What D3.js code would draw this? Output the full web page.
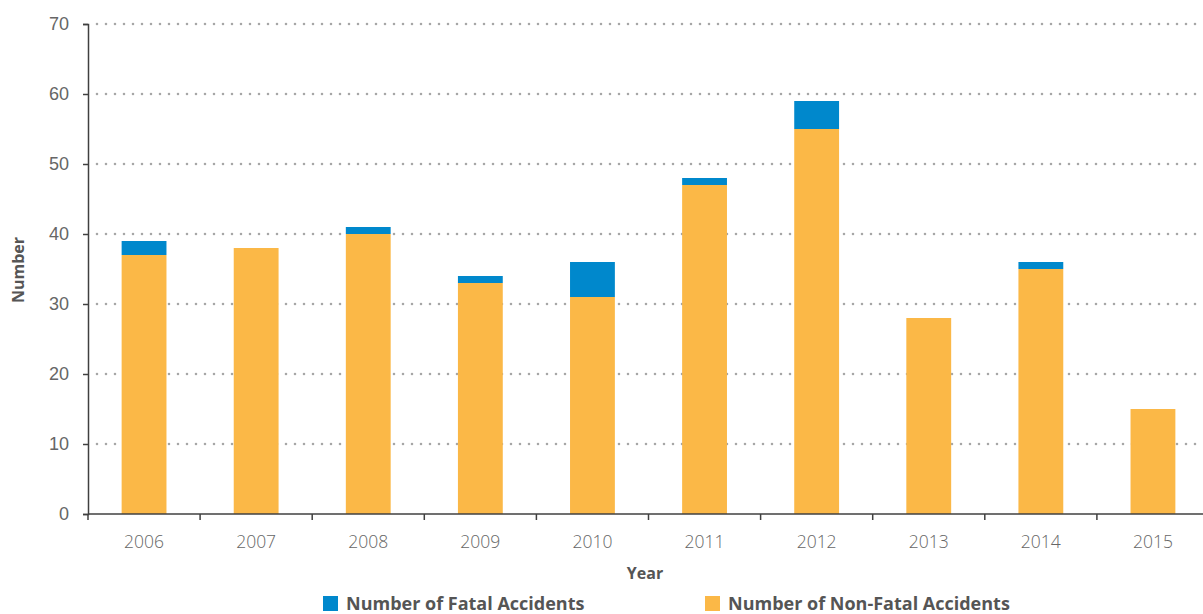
<!DOCTYPE html>
<html>
<head>
<meta charset="utf-8">
<script src="https://cdn.jsdelivr.net/npm/d3@7"></script>
<style>
  html, body { margin: 0; padding: 0; background: #fff; }
  svg { display: block; font-family: "Open Sans", "Noto Sans", sans-serif; }
</style>
</head>
<body>
<svg id="chart" width="1203" height="614"></svg>
<script>
// Accidents per year
const years = ["2006", "2007", "2008", "2009", "2010", "2011", "2012", "2013", "2014", "2015"];
const nonFatal = [37, 38, 40, 33, 31, 47, 55, 28, 35, 15];
const fatal = [2, 0, 1, 1, 5, 1, 4, 0, 1, 0];
const yTicks = [0, 10, 20, 30, 40, 50, 60, 70];
const seriesNames = ["Number of Fatal Accidents", "Number of Non-Fatal Accidents"];
const colors = { fatal: "#0088cc", nonFatal: "#fbb847" };

const svg = d3.select("#chart");
const plotLeft = 88, plotRight = 1209, plotTop = 24, plotBottom = 514;

const x = d3.scaleBand().domain(years).range([plotLeft, plotRight]).padding(0);
const y = d3.scaleLinear().domain([0, 70]).range([plotBottom, plotTop]);
const barW = x.bandwidth() * 0.4;

// dotted gridlines
svg.append("g").selectAll("line")
  .data(yTicks.filter(d => d > 0))
  .join("line")
  .attr("x1", plotLeft + 9).attr("x2", 1203)
  .attr("y1", d => y(d)).attr("y2", d => y(d))
  .attr("stroke", "#a6a6a6")
  .attr("stroke-width", 2.6)
  .attr("stroke-linecap", "round")
  .attr("stroke-dasharray", "0 9");

// stacked bars
const rows = years.map((yr, i) => ({ yr, nf: nonFatal[i], f: fatal[i] }));
const bars = svg.append("g");
bars.selectAll("rect.nf").data(rows).join("rect")
  .attr("class", "nf")
  .attr("x", d => x(d.yr) + (x.bandwidth() - barW) / 2)
  .attr("width", barW)
  .attr("y", d => y(d.nf))
  .attr("height", d => y(0) - y(d.nf))
  .attr("fill", colors.nonFatal);
bars.selectAll("rect.f").data(rows.filter(d => d.f > 0)).join("rect")
  .attr("class", "f")
  .attr("x", d => x(d.yr) + (x.bandwidth() - barW) / 2)
  .attr("width", barW)
  .attr("y", d => y(d.nf + d.f))
  .attr("height", d => y(d.nf) - y(d.nf + d.f))
  .attr("fill", colors.fatal);

// y axis
const yAxis = svg.append("g")
  .attr("transform", `translate(${plotLeft},0)`)
  .call(d3.axisLeft(y).tickValues(yTicks).tickSize(5).tickPadding(14));
yAxis.select(".domain").attr("stroke", "#404040").attr("stroke-width", 1.5);
yAxis.selectAll(".tick line").attr("stroke", "#404040").attr("stroke-width", 1.5);
yAxis.selectAll(".tick text").attr("fill", "#666").style("font-size", "18px").style("font-weight", "300");

// x axis: ticks sit between categories
const xAxis = svg.append("g").attr("transform", `translate(0,${plotBottom})`);
xAxis.append("line")
  .attr("x1", plotLeft).attr("x2", 1203)
  .attr("stroke", "#404040").attr("stroke-width", 1.5);
xAxis.selectAll("line.tk")
  .data(years)
  .join("line")
  .attr("class", "tk")
  .attr("x1", d => x(d)).attr("x2", d => x(d))
  .attr("y1", 0).attr("y2", 6)
  .attr("stroke", "#404040").attr("stroke-width", 1.5);
xAxis.selectAll("text")
  .data(years)
  .join("text")
  .attr("x", d => x(d) + x.bandwidth() / 2)
  .attr("y", 34)
  .attr("text-anchor", "middle")
  .attr("fill", "#666")
  .style("font-size", "17.5px").style("font-weight", "300")
  .text(d => d);

// axis titles
svg.append("text")
  .attr("x", 645).attr("y", 579)
  .attr("text-anchor", "middle")
  .attr("fill", "#555")
  .style("font-size", "16px").style("font-weight", "bold")
  .text("Year");
svg.append("text")
  .attr("transform", "translate(24,270) rotate(-90)")
  .attr("text-anchor", "middle")
  .attr("fill", "#555")
  .style("font-size", "16px").style("font-weight", "bold")
  .text("Number");

// legend
const legend = [
  { name: seriesNames[0], color: colors.fatal, x: 323 },
  { name: seriesNames[1], color: colors.nonFatal, x: 705 }
];
const lg = svg.append("g").selectAll("g").data(legend).join("g")
  .attr("transform", d => `translate(${d.x},596)`);
lg.append("rect").attr("width", 15).attr("height", 15).attr("fill", d => d.color);
lg.append("text")
  .attr("x", 23).attr("y", 14)
  .attr("fill", "#555")
  .style("font-size", "18px").style("font-weight", "bold")
  .text(d => d.name);
</script>
</body>
</html>
